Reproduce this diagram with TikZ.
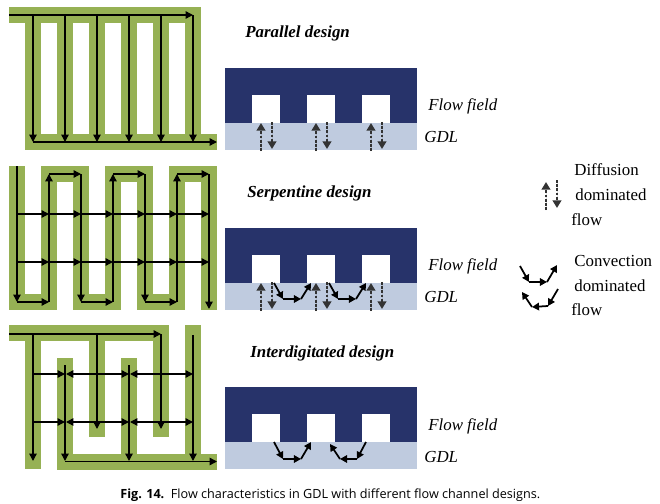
\documentclass[tikz,border=0pt]{standalone}
\usepackage{fontspec}
\setmainfont{Liberation Serif}
\newfontfamily\capfont{Open Sans}
\usepackage{tikz}
\usetikzlibrary{arrows.meta, positioning}
\definecolor{channelgreen}{HTML}{96B154}
\definecolor{plate}{HTML}{27336A}
\definecolor{gdlblue}{HTML}{BFCBDF}

\begin{document}
\begin{tikzpicture}[
        x=0.02cm, y=-0.02cm,
        channel/.style={draw=channelgreen, line width=0.32cm, line join=miter},
        flow/.style={-{Triangle[length=4.2pt, width=4.2pt]}, line width=0.8pt},
        conv/.style={-{Triangle[length=4pt, width=4.2pt]}, line width=1pt},
        diff/.style={-{Triangle[length=4.4pt, width=5pt]}, line width=1.3pt, draw=black!80, fill=black!80, dash pattern=on 1.6pt off 0.8pt},
        label/.style={anchor=base west, inner sep=0pt, font=\fontsize{9.6}{11}\selectfont},
        fieldlabel/.style={label, font=\fontsize{9.6}{11}\selectfont\itshape},
        title/.style={anchor=base west, inner sep=0pt, font=\fontsize{9.6}{11}\selectfont\bfseries\itshape}
    ]
        \useasboundingbox (0,0) rectangle (660,504);

        % parallel channels
        \draw[channel] (9,15) -- (201,15);
        \draw[channel] (25,142) -- (217,142);
        \foreach \cx in {65,97,129,161,193} {
            \draw[channel] (\cx,7) -- (\cx,150);
            \draw[flow] (\cx,15) -- (\cx,142);
        }
        \draw[channel] (33,15) -- (33,150);
        \draw[flow] (33,15) -- (33,142);
        \draw[flow] (9,15) -- (193,15);
        \draw[flow] (33,142) -- (217,142);

        % serpentine channels
        \draw[channel] (17,166) -- (17,302) -- (49,302) -- (49,174) -- (81,174) -- (81,302) -- (113,302) -- (113,174) -- (145,174) -- (145,302) -- (177,302) -- (177,174) -- (209,174) -- (209,310);
        \draw[flow] (17,166) -- (17,302);
        \draw[flow] (17,302) -- (49,302);
        \draw[flow] (49,302) -- (49,174);
        \draw[flow] (49,174) -- (81,174);
        \draw[flow] (81,174) -- (81,302);
        \draw[flow] (81,302) -- (113,302);
        \draw[flow] (113,302) -- (113,174);
        \draw[flow] (113,174) -- (145,174);
        \draw[flow] (145,174) -- (145,302);
        \draw[flow] (145,302) -- (177,302);
        \draw[flow] (177,302) -- (177,174);
        \draw[flow] (177,174) -- (209,174);
        \draw[flow] (209,174) -- (209,309);
        \foreach \ry in {214,262} {
            \foreach \ax/\bx in {17/49,49/81,81/113,113/145,145/177,177/209} {
                \draw[flow] (\ax,\ry) -- (\bx,\ry);
            }
        }

        % interdigitated channels
        \draw[channel] (9,333) -- (169,333);
        \draw[channel] (33,333) -- (33,469);
        \draw[channel] (97,333) -- (97,437);
        \draw[channel] (161,325) -- (161,437);
        \draw[channel] (57,462) -- (217,462);
        \draw[channel] (65,358) -- (65,470);
        \draw[channel] (129,358) -- (129,470);
        \draw[channel] (193,325) -- (193,470);
        \draw[flow] (9,334) -- (161,334);
        \draw[flow] (33,334) -- (33,461);
        \draw[flow] (97,334) -- (97,429);
        \draw[flow] (161,334) -- (161,429);
        \draw[flow] (65,365) -- (65,461);
        \draw[flow] (129,365) -- (129,461);
        \draw[flow] (193,335) -- (193,461);
        \draw[flow] (65,461.5) -- (217,461.5);
        \foreach \ry in {374,422} {
            \draw[flow] (33,\ry) -- (65,\ry);
            \draw[flow] (97,\ry) -- (66,\ry);
            \draw[flow] (97,\ry) -- (129,\ry);
            \draw[flow] (161,\ry) -- (130,\ry);
            \draw[flow] (161,\ry) -- (193,\ry);
        }

        % cross sections
        \foreach \py in {68,228,387} {
            \fill[plate] (225,\py) rectangle (417,\py+55);
            \fill[gdlblue] (225,\py+55) rectangle (417,\py+82);
            \foreach \sx in {252,307,362} {
                \fill[white] (\sx,\py+27) rectangle (\sx+28,\py+55);
            }
        }
        \foreach \sx in {261,316,371} {
            \draw[diff] (\sx,151) -- (\sx,123);
            \draw[diff] (\sx+11,122) -- (\sx+11,149);
            \draw[diff] (\sx,311) -- (\sx,283);
            \draw[diff] (\sx+11,282) -- (\sx+11,309);
        }
        \foreach \sx in {0,55} {
            \draw[conv] (274+\sx,283) -- (283+\sx,299);
            \draw[conv] (283+\sx,299) -- (301+\sx,299);
            \draw[conv] (301+\sx,299) -- (311+\sx,283);
        }
        \draw[conv] (274,442) -- (283,459);
        \draw[conv] (283,459) -- (301,459);
        \draw[conv] (301,459) -- (311,442);
        \draw[conv] (366,442) -- (357,459);
        \draw[conv] (357,459) -- (340,459);
        \draw[conv] (340,459) -- (330,444);

        % legend
        \draw[diff] (546,210) -- (546,182);
        \draw[diff] (557,180) -- (557,208);
        \draw[conv] (520,266) -- (529,282);
        \draw[conv] (529,282) -- (547,282);
        \draw[conv] (547,282) -- (557,265);
        \draw[conv] (558,289) -- (548,306);
        \draw[conv] (548,306) -- (532,307);
        \draw[conv] (532,307) -- (522,292);

        \node[title] (parallel) at (245,37) {Parallel design};
        \node[title] (serpentine) at (247,197) {Serpentine design};
        \node[title] (interdigitated) at (250,357) {Interdigitated design};

        \node[fieldlabel] (field1) at (428,110) {Flow field};
        \node[fieldlabel] (gdl1) at (424,142) {GDL};
        \node[fieldlabel] (field2) at (428,270) {Flow field};
        \node[fieldlabel] (gdl2) at (424,302) {GDL};
        \node[fieldlabel] (field3) at (428,430) {Flow field};
        \node[fieldlabel] (gdl3) at (424,462) {GDL};

        \node[label] (diffa) at (574,175) {Diffusion};
        \node[label] (diffb) at (575,200) {dominated};
        \node[label] (diffc) at (571,225) {flow};
        \node[label] (conva) at (574,266) {Convection};
        \node[label] (convb) at (574,291) {dominated};
        \node[label] (convc) at (571,315) {flow};

        \node[anchor=base west, inner sep=0pt, font=\capfont\fontsize{7.2}{9}\selectfont] (caption) at (120,498) {\textbf{Fig. 14.}\ \ Flow characteristics in GDL with different flow channel designs.};
    \end{tikzpicture}
\end{document}
